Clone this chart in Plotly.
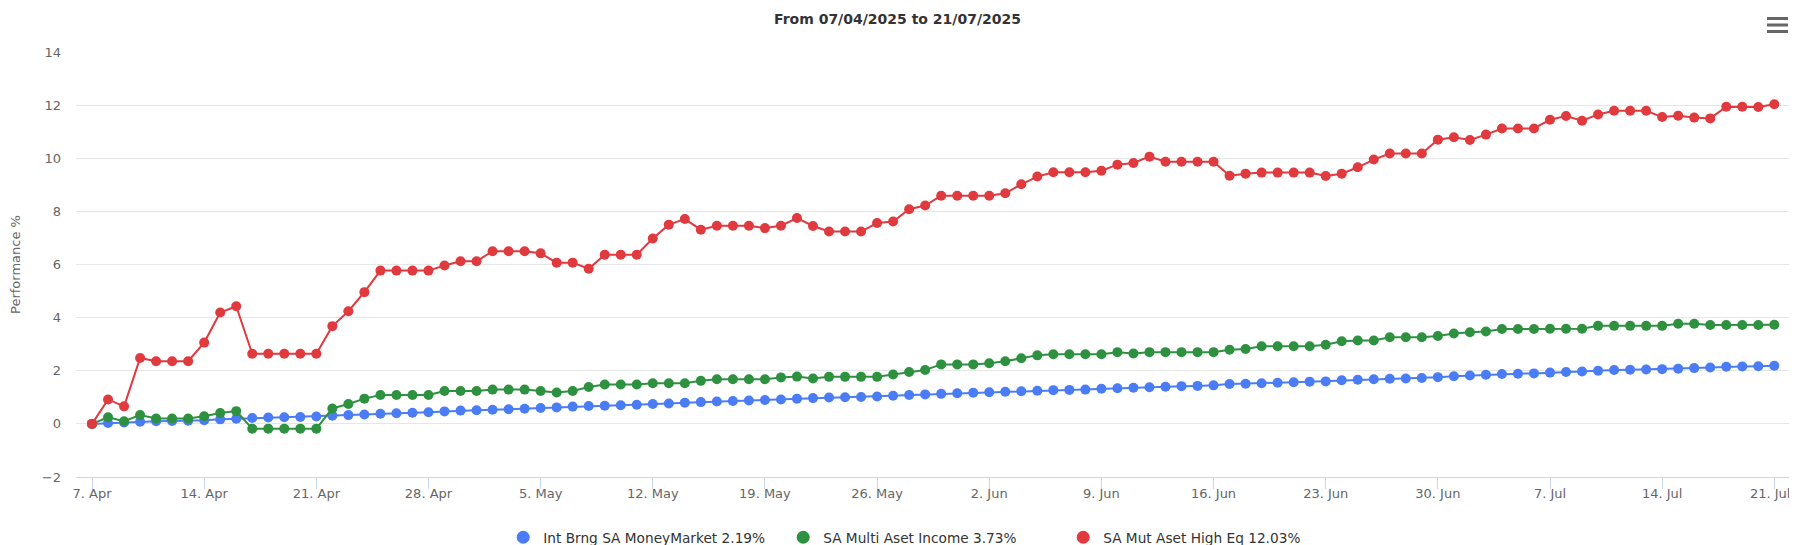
import pandas as pd
import plotly.graph_objects as go

START_DATE = "2025-04-07"
END_DATE = "2025-07-21"

money_market = [
    # Apr 7 - Apr 30
    0.00, 0.03, 0.05, 0.08, 0.10, 0.11, 0.12, 0.14, 0.17, 0.19, 0.22, 0.24, 0.25, 0.26,
    0.28, 0.31, 0.33, 0.35, 0.38, 0.40, 0.42, 0.44, 0.47, 0.50,
    # May
    0.51, 0.53, 0.55, 0.57, 0.60, 0.62, 0.65, 0.67, 0.68, 0.70, 0.72, 0.75, 0.77, 0.80,
    0.82, 0.84, 0.86, 0.88, 0.90, 0.92, 0.95, 0.97, 0.99, 1.00, 1.01, 1.03, 1.06, 1.09,
    1.11, 1.13, 1.15,
    # Jun
    1.17, 1.19, 1.21, 1.23, 1.25, 1.27, 1.28, 1.29, 1.32, 1.34, 1.36, 1.38, 1.40, 1.42,
    1.43, 1.45, 1.50, 1.51, 1.53, 1.55, 1.57, 1.59, 1.60, 1.64, 1.66, 1.68, 1.70, 1.71,
    1.73, 1.76,
    # Jul 1 - Jul 21
    1.79, 1.82, 1.85, 1.88, 1.89, 1.90, 1.93, 1.95, 1.97, 2.00, 2.03, 2.04, 2.05, 2.06,
    2.08, 2.10, 2.12, 2.15, 2.16, 2.17, 2.19,
]

multi_income = [
    # Apr 7 - Apr 30
    0.00, 0.25, 0.10, 0.33, 0.20, 0.20, 0.20, 0.29, 0.41, 0.48, -0.18, -0.18, -0.18, -0.18,
    -0.18, 0.58, 0.75, 0.95, 1.09, 1.09, 1.09, 1.09, 1.24, 1.24,
    # May
    1.24, 1.29, 1.29, 1.29, 1.24, 1.18, 1.24, 1.39, 1.48, 1.48, 1.48, 1.53, 1.53, 1.53,
    1.62, 1.68, 1.68, 1.68, 1.68, 1.75, 1.78, 1.71, 1.77, 1.77, 1.77, 1.77, 1.86, 1.95,
    2.03, 2.24, 2.24,
    # Jun
    2.24, 2.28, 2.36, 2.47, 2.58, 2.62, 2.62, 2.62, 2.62, 2.70, 2.65, 2.70, 2.70, 2.70,
    2.70, 2.70, 2.79, 2.82, 2.92, 2.92, 2.92, 2.92, 2.98, 3.11, 3.14, 3.14, 3.26, 3.26,
    3.26, 3.31,
    # Jul 1 - Jul 21
    3.40, 3.45, 3.48, 3.57, 3.57, 3.57, 3.58, 3.58, 3.58, 3.69, 3.69, 3.69, 3.69, 3.69,
    3.77, 3.77, 3.72, 3.72, 3.72, 3.72, 3.73,
]

high_equity = [
    # Apr 7 - Apr 30
    0.00, 0.92, 0.66, 2.48, 2.36, 2.36, 2.36, 3.06, 4.19, 4.43, 2.64, 2.64, 2.64, 2.64,
    2.64, 3.68, 4.24, 4.96, 5.77, 5.77, 5.77, 5.77, 5.96, 6.12,
    # May
    6.12, 6.50, 6.50, 6.50, 6.42, 6.07, 6.07, 5.84, 6.37, 6.37, 6.37, 6.98, 7.50, 7.71,
    7.31, 7.46, 7.46, 7.46, 7.37, 7.46, 7.75, 7.45, 7.24, 7.24, 7.24, 7.56, 7.62, 8.08,
    8.22, 8.59, 8.59,
    # Jun
    8.59, 8.59, 8.68, 9.02, 9.31, 9.47, 9.47, 9.47, 9.53, 9.76, 9.82, 10.06, 9.87, 9.87,
    9.87, 9.87, 9.34, 9.42, 9.46, 9.46, 9.46, 9.46, 9.33, 9.42, 9.66, 9.95, 10.18, 10.18,
    10.18, 10.70,
    # Jul 1 - Jul 21
    10.79, 10.69, 10.89, 11.12, 11.12, 11.12, 11.45, 11.59, 11.41, 11.65, 11.79, 11.79,
    11.79, 11.55, 11.60, 11.53, 11.50, 11.94, 11.94, 11.93, 12.03,
]

series_names = [
    "Int Brng SA MoneyMarket 2.19%",
    "SA Multi Aset Income 3.73%",
    "SA Mut Aset High Eq 12.03%",
]
series_colors = ["#4A7CF6", "#2E9140", "#E0393E"]

dates = pd.date_range(START_DATE, END_DATE, freq="D")
tick_dates = pd.date_range(START_DATE, END_DATE, freq="7D")
tick_labels = [d.strftime("%-d. %b") for d in tick_dates]
# keep the last label inside the page, as the original chart does
tick_labels[-1] = tick_labels[-1] + "\u00a0\u00a0"

FONT = "DejaVu Sans"

fig = go.Figure()
for i, (name, vals, col) in enumerate(zip(series_names, [money_market, multi_income, high_equity], series_colors)):
    fig.add_trace(go.Scatter(
        x=dates, y=vals, name=name, mode="lines+markers",
        line=dict(color=col, width=2),
        marker=dict(color=col, size=10, symbol="circle"),
        legendgroup=f"s{i}", showlegend=False,
    ))
    # legend entry drawn as a plain circle (like the original)
    fig.add_trace(go.Scatter(
        x=[None], y=[None], name=name, mode="markers",
        marker=dict(color=col, size=13, symbol="circle"),
        legendgroup=f"s{i}", showlegend=True,
    ))

W, H = 1797, 545
ml, mr, mt, mb = 68, 14, 44, 76

fig.update_layout(
    width=W, height=H,
    margin=dict(l=ml, r=mr, t=mt, b=mb, autoexpand=False),
    paper_bgcolor="white", plot_bgcolor="white",
    font=dict(family=FONT, size=13, color="#666666"),
    title=dict(
        text="<b>From 07/04/2025 to 21/07/2025</b>",
        x=0.495, xanchor="center", y=1 - 11 / H, yanchor="middle",
        font=dict(family=FONT, size=14, color="#333333"),
    ),
    showlegend=True,
    legend=dict(
        orientation="h", x=0.494, xanchor="center", y=-0.142, yanchor="middle",
        font=dict(family=FONT, size=13.7, color="#333333"),
        itemwidth=30, entrywidth=235, bgcolor="rgba(0,0,0,0)",
    ),
    hovermode="x",
)

fig.update_xaxes(
    type="date",
    range=["2025-04-06 00:00", "2025-07-22 01:00"],
    tickmode="array", tickvals=tick_dates, ticktext=tick_labels,
    showgrid=False, zeroline=False,
    showline=True, linecolor="#ccd6eb", linewidth=1,
    ticks="outside", ticklen=11, tickcolor="#ccd6eb", tickwidth=1,
    ticklabelstandoff=-7,
    tickfont=dict(family=FONT, size=13, color="#666666"),
)

fig.update_yaxes(
    range=[-2, 14], dtick=2, tick0=0,
    showgrid=True, gridcolor="#e6e6e6", gridwidth=1,
    zeroline=False, showline=False, ticks="",
    ticklabelstandoff=14,
    tickfont=dict(family=FONT, size=13, color="#666666"),
    title=dict(text="Performance %", font=dict(family=FONT, size=13, color="#666666"), standoff=18),
)

# hamburger (context menu) icon
for yy in [10.5, 17, 23.5]:
    fig.add_shape(
        type="rect", xref="paper", yref="paper",
        x0=(1759 - ml) / (W - ml - mr), x1=(1780 - ml) / (W - ml - mr),
        y0=(H - mb - yy - 1.5) / (H - mt - mb), y1=(H - mb - yy + 1.5) / (H - mt - mb),
        fillcolor="#666666", line=dict(width=0), layer="above",
    )

fig.write_html("out.html")
